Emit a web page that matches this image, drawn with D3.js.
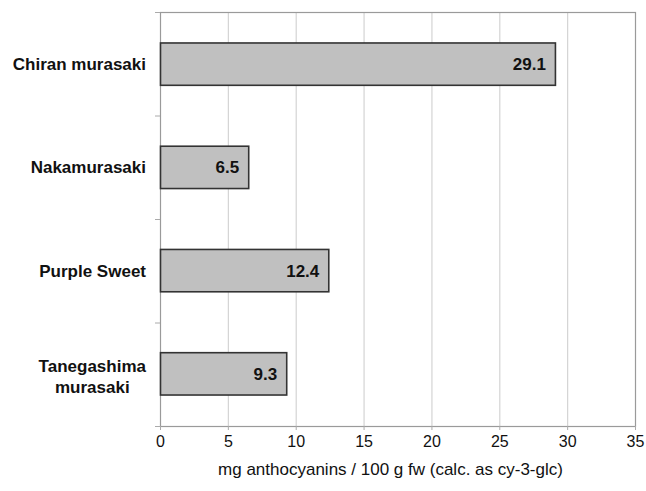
<!DOCTYPE html>
<html>
<head>
<meta charset="utf-8">
<script src="https://cdn.jsdelivr.net/npm/d3@7"></script>
<style>
body { margin: 0; background: #fff; }
svg { font-family: "Liberation Sans", Arial, sans-serif; }
</style>
</head>
<body>
<svg id="chart"></svg>
<script>
var width = 646;
var height = 491;
var margin = { top: 12, right: 11, bottom: 65, left: 160 };

// data
var varieties = ["Chiran murasaki", "Nakamurasaki", "Purple Sweet", "Tanegashima murasaki"];
var anthocyanins = [29.1, 6.5, 12.4, 9.3];
var xTicks = [0, 5, 10, 15, 20, 25, 30, 35];
var xTitle = "mg anthocyanins / 100 g fw (calc. as cy-3-glc)";

var svg = d3.select("#chart")
	.attr("width", width)
	.attr("height", height);

var plotW = width - margin.left - margin.right;
var plotH = height - margin.top - margin.bottom;

var x = d3.scaleLinear().domain([0, 35]).range([0, plotW]);
var y = d3.scaleBand().domain(varieties).range([0, plotH]).paddingInner(0.59).paddingOuter(0.3);

var g = svg.append("g").attr("transform", "translate(" + margin.left + "," + margin.top + ")");

// gridlines
g.append("g")
	.selectAll("line")
	.data(xTicks.slice(1, -1))
	.join("line")
	.attr("x1", d => x(d) + 0.5)
	.attr("x2", d => x(d) + 0.5)
	.attr("y1", 0)
	.attr("y2", plotH)
	.attr("stroke", "#d4d4d4")
	.attr("stroke-width", 1.2);

// frame
g.append("rect")
	.attr("x", 0.5).attr("y", 0.5)
	.attr("width", plotW).attr("height", plotH)
	.attr("fill", "none")
	.attr("stroke", "#9a9a9a")
	.attr("stroke-width", 1.2);

// x axis
var xAxis = g.append("g")
	.attr("transform", "translate(0," + plotH + ")")
	.call(d3.axisBottom(x).tickValues(xTicks).tickSize(4).tickSizeOuter(0).tickPadding(6));
xAxis.select(".domain").remove();
xAxis.selectAll("line").attr("stroke", "#aaa");
xAxis.selectAll("text").attr("font-size", "16px").attr("fill", "#111").attr("font-family", "Liberation Sans, Arial, sans-serif");

// y ticks at band boundaries
var bounds = d3.range(varieties.length + 1).map(i => plotH * i / varieties.length);
g.append("g")
	.selectAll("line")
	.data(bounds)
	.join("line")
	.attr("x1", -5).attr("x2", 0)
	.attr("y1", d => d + 0.5).attr("y2", d => d + 0.5)
	.attr("stroke", "#aaa");

// bars
g.append("g")
	.selectAll("rect")
	.data(anthocyanins)
	.join("rect")
	.attr("x", 0.5)
	.attr("y", (d, i) => y(varieties[i]))
	.attr("width", d => x(d))
	.attr("height", y.bandwidth())
	.attr("fill", "#c0c0c0")
	.attr("stroke", "#333")
	.attr("stroke-width", 1.6);

// value labels
g.append("g")
	.selectAll("text")
	.data(anthocyanins)
	.join("text")
	.attr("x", d => x(d) - 9)
	.attr("y", (d, i) => y(varieties[i]) + y.bandwidth() / 2)
	.attr("dy", "0.36em")
	.attr("text-anchor", "end")
	.attr("font-size", "17px")
	.attr("font-weight", "bold")
	.attr("fill", "#111")
	.text(d => d.toFixed(1));

// category labels
var labels = g.append("g");
varieties.forEach(function(name, i) {
	var cy = y(name) + y.bandwidth() / 2;
	if (name == "Tanegashima murasaki") {
		var t1 = labels.append("text")
			.attr("x", -14).attr("y", cy - 8).attr("dy", "0.36em")
			.attr("text-anchor", "end")
			.attr("font-size", "17px").attr("font-weight", "bold").attr("fill", "#111")
			.text("Tanegashima");
		var w = t1.node().getComputedTextLength();
		labels.append("text")
			.attr("x", -14 - w / 2).attr("y", cy + 13).attr("dy", "0.36em")
			.attr("text-anchor", "middle")
			.attr("font-size", "17px").attr("font-weight", "bold").attr("fill", "#111")
			.text("murasaki");
	} else {
		labels.append("text")
			.attr("x", -14).attr("y", cy).attr("dy", "0.36em")
			.attr("text-anchor", "end")
			.attr("font-size", "17px").attr("font-weight", "bold").attr("fill", "#111")
			.text(name);
	}
});

// x title
svg.append("text")
	.attr("x", margin.left + plotW / 2 - 7)
	.attr("y", 475)
	.attr("text-anchor", "middle")
	.attr("font-size", "17px")
	.attr("fill", "#111")
	.text(xTitle);
</script>
</body>
</html>
